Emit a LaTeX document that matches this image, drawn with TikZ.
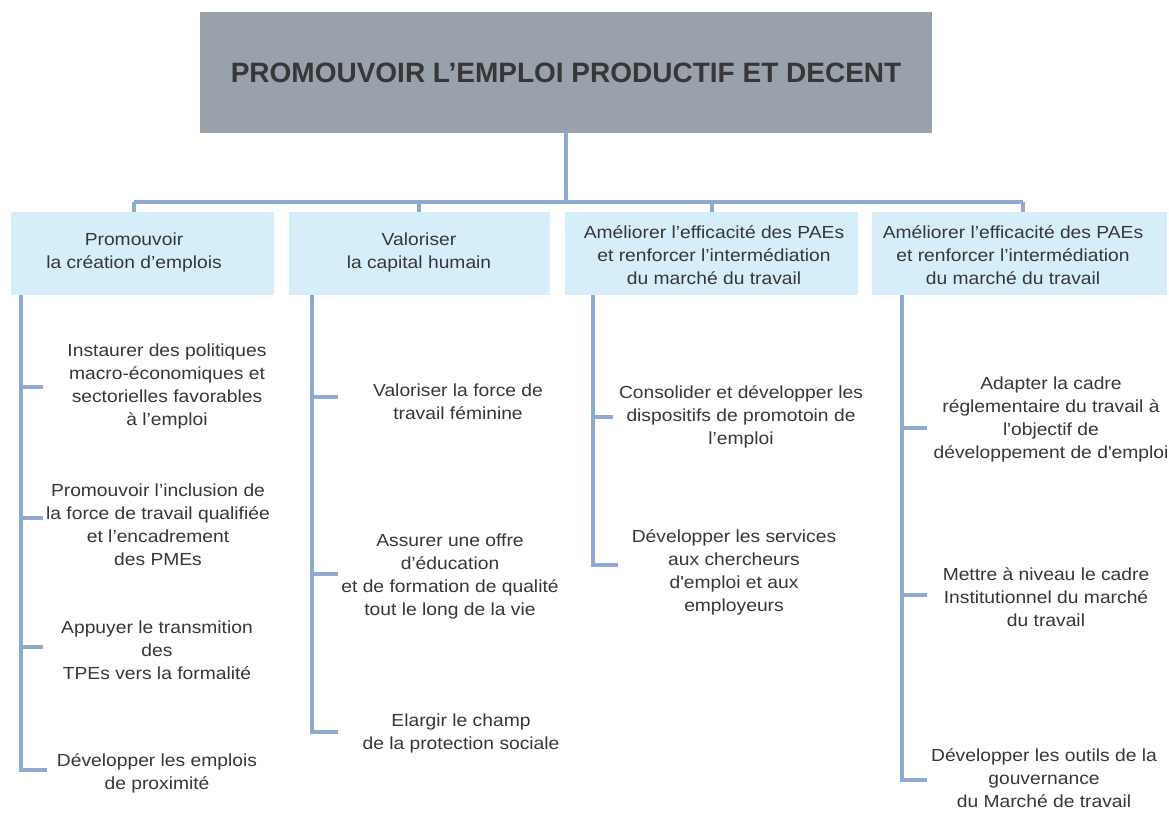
\documentclass[tikz,border=0pt]{standalone}
\usepackage{fontspec}
\setmainfont{Liberation Sans}
\newfontfamily\bodyfont{Liberation Sans}[FakeStretch=1.1]
\definecolor{topgray}{RGB}{153,161,172}
\definecolor{boxblue}{RGB}{214,238,250}
\definecolor{lineblue}{RGB}{143,170,210}
\definecolor{textgray}{RGB}{55,55,55}
\begin{document}
\begin{tikzpicture}[x=1pt,y=-1pt,
  conn/.style={draw=lineblue, line width=3.5pt},
  catbox/.style={fill=boxblue, draw=none, inner sep=0pt, minimum height=83pt},
  item/.style={font=\bodyfont\fontsize{17.5}{23}\selectfont, text=textgray, align=center, inner sep=0pt}]
\useasboundingbox[fill=white] (0,0) rectangle (1169,814);

% top box
\node[fill=topgray, minimum width=732pt, minimum height=121pt, inner sep=0pt,
      font=\bfseries\fontsize{28}{32}\selectfont, text=textgray] (top) at (566,72.5)
      {PROMOUVOIR L’EMPLOI PRODUCTIF ET DECENT};

% category boxes
\node[catbox, minimum width=263pt] (b1) at (142.5,253.5) {};
\node[catbox, minimum width=261pt] (b2) at (419.5,253.5) {};
\node[catbox, minimum width=293pt] (b3) at (711.5,253.5) {};
\node[catbox, minimum width=295pt] (b4) at (1019.5,253.5) {};
\node[item] (l1) at (134,252) {Promouvoir\\la création d’emplois};
\node[item] (l2) at (419,252) {Valoriser\\la capital humain};
\node[item] (l3) at (714,255) {Améliorer l’efficacité des PAEs\\et renforcer l’intermédiation\\du marché du travail};
\node[item] (l4) at (1013,255) {Améliorer l’efficacité des PAEs\\et renforcer l’intermédiation\\du marché du travail};

% top connectors
\coordinate (hub) at (566,202);
\coordinate (h1) at (134,202);
\coordinate (h2) at (419,202);
\coordinate (h3) at (712,202);
\coordinate (h4) at (1023,202);
\draw[conn] (top.south) -- (hub);
\draw[conn] (h1) -- (h4);
\draw[conn] (h1) -- (h1 |- b1.north);
\draw[conn] (h2) -- (h2 |- b2.north);
\draw[conn] (h3) -- (h3 |- b3.north);
\draw[conn] (h4) -- (h4 |- b4.north);

% column 1
\node[item] (a1) at (167,386.5) {Instaurer des politiques\\macro-économiques et\\sectorielles favorables\\à l’emploi};
\node[item] (a2) at (158,525) {Promouvoir l’inclusion de\\la force de travail qualifiée\\et l’encadrement\\des PMEs};
\node[item] (a3) at (157,650.5) {Appuyer le transmition\\des\\TPEs vers la formalité};
\node[item] (a4) at (157,773.5) {Développer les emplois\\de proximité};
\coordinate (c1) at (21,295);
\coordinate (e1a) at (43,387);
\coordinate (e1b) at (43,518);
\coordinate (e1c) at (43,647);
\coordinate (e1d) at (47,770);
\draw[conn] (c1) |- (e1d);
\draw[conn] (e1a -| c1) -- (e1a);
\draw[conn] (e1b -| c1) -- (e1b);
\draw[conn] (e1c -| c1) -- (e1c);

% column 2
\node[item] (s1) at (458,401.5) {Valoriser la force de\\travail féminine};
\node[item] (s2) at (450,576.5) {Assurer une offre\\d’éducation\\et de formation de qualité\\tout le long de la vie};
\node[item] (s3) at (461,733.5) {Elargir le champ\\de la protection sociale};
\coordinate (c2) at (312,295);
\coordinate (e2a) at (338,397);
\coordinate (e2b) at (338,574);
\coordinate (e2c) at (338,732);
\draw[conn] (c2) |- (e2c);
\draw[conn] (e2a -| c2) -- (e2a);
\draw[conn] (e2b -| c2) -- (e2b);

% column 3
\node[item] (t1) at (741,416.5) {Consolider et développer les\\dispositifs de promotoin de\\l’emploi};
\node[item] (t2) at (734,572.5) {Développer les services\\aux chercheurs\\d'emploi et aux\\employeurs};
\coordinate (c3) at (593,295);
\coordinate (e3a) at (613,417);
\coordinate (e3b) at (618,565);
\draw[conn] (c3) |- (e3b);
\draw[conn] (e3a -| c3) -- (e3a);

% column 4
\node[item] (d1) at (1051,419) {Adapter la cadre\\réglementaire du travail à\\l'objectif de\\développement de d'emploi};
\node[item] (d2) at (1046,597) {Mettre à niveau le cadre\\Institutionnel du marché\\du travail};
\node[item] (d3) at (1044,778.5) {Développer les outils de la\\gouvernance\\du Marché de travail};
\coordinate (c4) at (902,295);
\coordinate (e4a) at (927,428);
\coordinate (e4b) at (927,595);
\coordinate (e4c) at (927,780);
\draw[conn] (c4) |- (e4c);
\draw[conn] (e4a -| c4) -- (e4a);
\draw[conn] (e4b -| c4) -- (e4b);
\end{tikzpicture}
\end{document}
